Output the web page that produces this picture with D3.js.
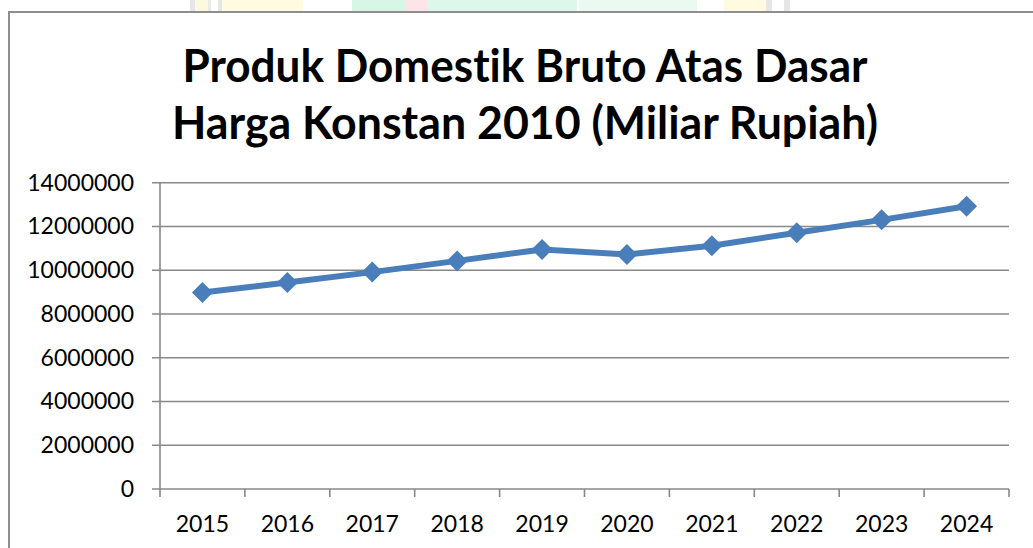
<!DOCTYPE html>
<html>
<head>
<meta charset="utf-8">
<script src="https://cdn.jsdelivr.net/npm/d3@7"></script>
<style>
  body { margin: 0; background: #fff; }
  svg { display: block; }
  text { font-family: Lato, "Open Sans", sans-serif; fill: #000; font-variant-ligatures: none; }
</style>
</head>
<body>
<div id="canvas"></div>
<script>
const years = ["2015", "2016", "2017", "2018", "2019", "2020", "2021", "2022", "2023", "2024"];
const pdb = [8982517, 9434613, 9912928, 10425851, 10949155, 10723055, 11120078, 11710398, 12301394, 12920435];
const yTicks = [0, 2000000, 4000000, 6000000, 8000000, 10000000, 12000000, 14000000];
const titleLines = ["Produk Domestik Bruto Atas Dasar", "Harga Konstan 2010 (Miliar Rupiah)"];

const W = 1033, H = 548;
const svg = d3.select("#canvas").append("svg")
    .attr("width", W)
    .attr("height", H);

svg.append("rect").attr("width", W).attr("height", H).attr("fill", "#fff");

// faint watermark peeking above the chart frame
const wm = svg.append("g");
[[190, 5, "#e6e6e6"], [195, 13, "#fff8e0"], [208, 3, "#eaeaea"], [218, 4, "#e6e6e6"],
 [222, 81, "#fffae0"], [352, 53, "#d8f6e6"], [405, 22, "#fde4e8"], [427, 150, "#ddf7ea"],
 [579, 118, "#eafaf1"], [724, 42, "#fffae0"], [766, 6, "#e6e6e6"], [784, 6, "#e6e6e6"]]
  .forEach(d => wm.append("rect").attr("x", d[0]).attr("y", 0)
      .attr("width", d[1]).attr("height", 11).attr("fill", d[2]));

// chart frame
svg.append("path")
    .attr("d", "M9,560V12H1040")
    .attr("fill", "none")
    .attr("stroke", "#8e8e8e")
    .attr("stroke-width", 2);

// title
const title = svg.append("g").attr("text-anchor", "middle");
title.selectAll("text")
    .data(titleLines)
    .join("text")
    .attr("x", 525)
    .attr("y", (d, i) => 82 + i * 57)
    .style("font-size", "45px")
    .style("font-weight", "bold")
    .text(d => d)
    .each(function(d, i) {
        const target = [685, 706][i];
        if (this.getComputedTextLength() > target) {
            d3.select(this).attr("textLength", target).attr("lengthAdjust", "spacingAndGlyphs");
        }
    });

const plotLeft = 160, plotRight = 1009, plotTop = 182.7, plotBottom = 489;

const x = d3.scaleBand()
    .domain(years)
    .range([plotLeft, plotRight])
    .padding(0);

const y = d3.scaleLinear()
    .domain([0, 14000000])
    .range([plotBottom, plotTop]);

const gridColor = "#888888";

// gridlines
svg.append("g")
    .selectAll("line")
    .data(yTicks)
    .join("line")
    .attr("x1", plotLeft - 8)
    .attr("x2", plotRight)
    .attr("y1", d => y(d))
    .attr("y2", d => y(d))
    .attr("stroke", gridColor)
    .attr("stroke-width", 1.6);

// y axis labels
const yAxis = svg.append("g")
    .attr("transform", `translate(${plotLeft},0)`)
    .call(d3.axisLeft(y).tickValues(yTicks).tickFormat(d3.format("d")).tickSize(8).tickPadding(18));
yAxis.select(".domain").remove();
yAxis.selectAll("line").remove();
yAxis.selectAll("text").style("font-size", "23px").style("font-family", "Lato, sans-serif");

// y axis line
svg.append("line")
    .attr("x1", plotLeft).attr("x2", plotLeft)
    .attr("y1", plotTop).attr("y2", plotBottom + 8)
    .attr("stroke", gridColor)
    .attr("stroke-width", 1.6);

// x axis ticks at category edges
svg.append("g")
    .selectAll("line")
    .data(years.slice(1).concat(["end"]))
    .join("line")
    .attr("x1", d => d === "end" ? plotRight : x(d))
    .attr("x2", d => d === "end" ? plotRight : x(d))
    .attr("y1", plotBottom)
    .attr("y2", plotBottom + 8)
    .attr("stroke", gridColor)
    .attr("stroke-width", 1.6);

const xAxis = svg.append("g")
    .attr("transform", `translate(0,${plotBottom})`)
    .call(d3.axisBottom(x).tickSize(0).tickPadding(27));
xAxis.select(".domain").remove();
xAxis.selectAll("text").style("font-size", "23px").style("font-family", "Lato, sans-serif");

// line
const cx = d => x(d) + x.bandwidth() / 2;
const pts = years.map((yr, i) => ({ year: yr, value: pdb[i] }));

svg.append("path")
    .datum(pts)
    .attr("fill", "none")
    .attr("stroke", "#4a7ebb")
    .attr("stroke-width", 6)
    .attr("stroke-linejoin", "round")
    .attr("d", d3.line()
        .x(d => cx(d.year))
        .y(d => y(d.value)));

// diamond markers
svg.append("g")
    .selectAll("path")
    .data(pts)
    .join("path")
    .attr("transform", d => `translate(${cx(d.year)},${y(d.value)})`)
    .attr("d", "M0,-10.5L10.5,0L0,10.5L-10.5,0Z")
    .attr("fill", "#4a7ebb");
</script>
</body>
</html>
